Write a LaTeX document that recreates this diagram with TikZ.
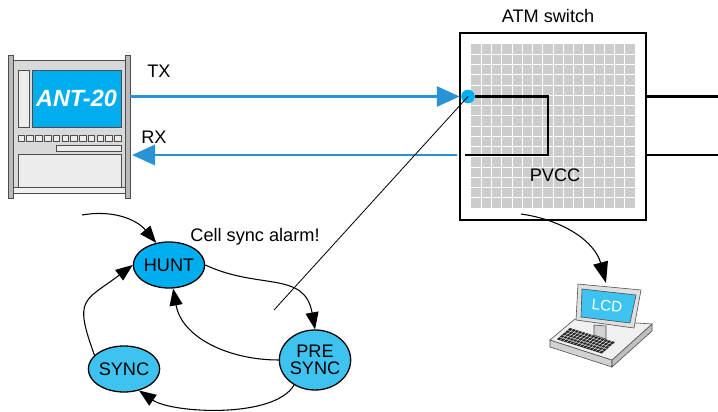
\documentclass[tikz,border=0pt]{standalone}
\usepackage{fontspec}
\setmainfont{Liberation Sans}
\usepackage{xcolor}
\usetikzlibrary{arrows.meta,shapes.geometric}
\definecolor{antblue}{HTML}{00AEEF}
\definecolor{statelight}{HTML}{3EC3F0}
\definecolor{linkblue}{HTML}{2A93D5}

\begin{document}
\begin{tikzpicture}[x=0.3mm,y=0.3mm,font=\fontsize{15.5}{18}\selectfont,
		state/.style={ellipse,draw,line width=1.1pt,inner sep=0pt,minimum width=20.4mm,minimum height=13.8mm},
		trans/.style={line width=0.9pt,-{Triangle[length=5.1mm,width=3.9mm]}},
		link/.style={linkblue,line width=2.5pt,-{Triangle[length=6.9mm,width=6mm]}},
		wire/.style={line width=1.9pt},
		part/.style={draw=black!70,line width=0.5pt}]
	\useasboundingbox (0,0) rectangle (718,412);

	% tester
	\filldraw[part,fill=gray!30] (13,219) rectangle (125,352);
	\filldraw[part,fill=gray!12] (13,219) rectangle (125,225);
	\filldraw[part,fill=gray!55] (8,214) rectangle (13,357);
	\filldraw[part,fill=gray!55] (125,214) rectangle (130,357);
	\filldraw[part,fill=gray!15] (18,285) rectangle (29,342);
	\filldraw[part,fill=antblue] (32,285) rectangle (121,342);
	\foreach \i in {0,...,11}
		\filldraw[part,fill=gray!15] ({18+\i*8.77},271) rectangle +(6.5,5.5);
	\filldraw[part,fill=gray!15] (56,261) rectangle (121,267);
	\filldraw[part,fill=gray!15] (18,225) rectangle (121,258);
	\node[text=white,font=\fontsize{20}{24}\selectfont\bfseries\itshape] (ant) at (76.5,313.5) {ANT-20};

	% switch
	\node[draw,line width=1.1pt,inner sep=0pt,minimum width=55.8mm,minimum height=56.1mm] (atm) at (553,285.5) {};
	\fill[gray!40] (471,204) rectangle (635,368);
	\foreach \i in {1,...,15} {
		\draw[white,line width=0.5pt] ({471+\i*10.25},204) -- ++(0,164);
		\draw[white,line width=0.5pt] (471,{204+\i*10.25}) -- ++(164,0);
	}
	\node (switch) at (548,396) {ATM switch};
	\node (pvcc) at (555,237) {PVCC};
	\node[circle,fill=antblue,inner sep=0pt,minimum size=4.1mm] (port) at (468,315.5) {};

	\coordinate (tx) at (130,315.5);
	\coordinate (rxstart) at (457,257);
	\coordinate (rx) at (132,257);
	\coordinate (loop) at (548,257);
	\coordinate (loopend) at (465,257);
	\coordinate (out1) at (718,315.5);
	\coordinate (out2) at (718,257);
	\draw[link,shorten >=1pt] (tx) -- (port.west);
	\draw[link] (rxstart) -- (rx);
	\draw[wire] (port.east) -| (loop) -- (loopend);
	\draw[wire] (atm.east |- out1) -- (out1);
	\draw[wire] (atm.east |- out2) -- (out2);
	\node (txlabel) at (159,341) {TX};
	\node (rxlabel) at (154,275) {RX};

	% laptop
	\filldraw[part,fill=gray!35] (550,72) -- (612,52) -- (612,45) -- (550,65) -- cycle;
	\filldraw[part,fill=gray!50] (612,52) -- (652,88) -- (652,81) -- (612,45) -- cycle;
	\filldraw[part,fill=gray!12] (575,93) -- (652,88) -- (612,52) -- (550,72) -- cycle;
	\begin{scope}[shift={(556.8,72.65)}]
		\begin{scope}[x={(13.5mm,-4.26mm)},y={(3.93mm,3.42mm)}]
			\fill[black!85] (0,0) -- (1,0) -- (1,1) -- (0,1) -- cycle;
			\foreach \i in {1,...,13}
				\draw[white,line width=0.3pt] (\i/14,0) -- (\i/14,1);
			\foreach \j in {1,...,4}
				\draw[white,line width=0.3pt] (0,\j/5) -- (1,\j/5);
		\end{scope}
	\end{scope}
	\filldraw[part,fill=gray!35] (594,87) -- (606,86) -- (606,73) -- (594,77) -- cycle;
	\filldraw[part,fill=gray!25] (576,92) -- (578,128) -- (641,122) -- (634,84) -- cycle;
	\filldraw[part,fill=statelight] (581,95) -- (582,123) -- (636,117) -- (630,89) -- cycle;
	\node[text=white,font=\fontsize{13}{15}\selectfont,rotate=-5] (lcd) at (607,106) {LCD};

	\coordinate (atmout) at (521,198);
	\coordinate (laptop) at (606,129);
	\draw[line width=0.9pt,-{Triangle[length=6.3mm,width=4.5mm]}] (atmout) to[out=-8,in=105] (laptop);

	% cell delineation
	\node[state,fill=antblue] (hunt) at (169,147) {HUNT};
	\node[state,fill=statelight] (sync) at (124,43) {SYNC};
	\node[state,fill=statelight,minimum width=19.8mm,minimum height=18mm,align=center,font=\fontsize{15.5}{15}\selectfont] (pre) at (315,52) {PRE\\SYNC};
	\node (alarm) at (255,175) {Cell sync alarm!};
	\coordinate (start) at (82,197);
	\coordinate (alarmend) at (274,102);
	\draw[line width=0.7pt] (port.center) -- (alarmend);
	\draw[trans] (start) to[out=10,in=130] (hunt.120);
	\draw[trans] (hunt.east) to[out=-25,in=100,looseness=1.2] (pre.north);
	\draw[trans] (pre.west) to[out=180,in=-80] (hunt.-80);
	\draw[trans] (pre.-130) to[out=-120,in=-35,looseness=0.65] (sync.-55);
	\draw[trans] (sync.155) to[out=110,in=217,looseness=1.6] (hunt.west);
\end{tikzpicture}
\end{document}
